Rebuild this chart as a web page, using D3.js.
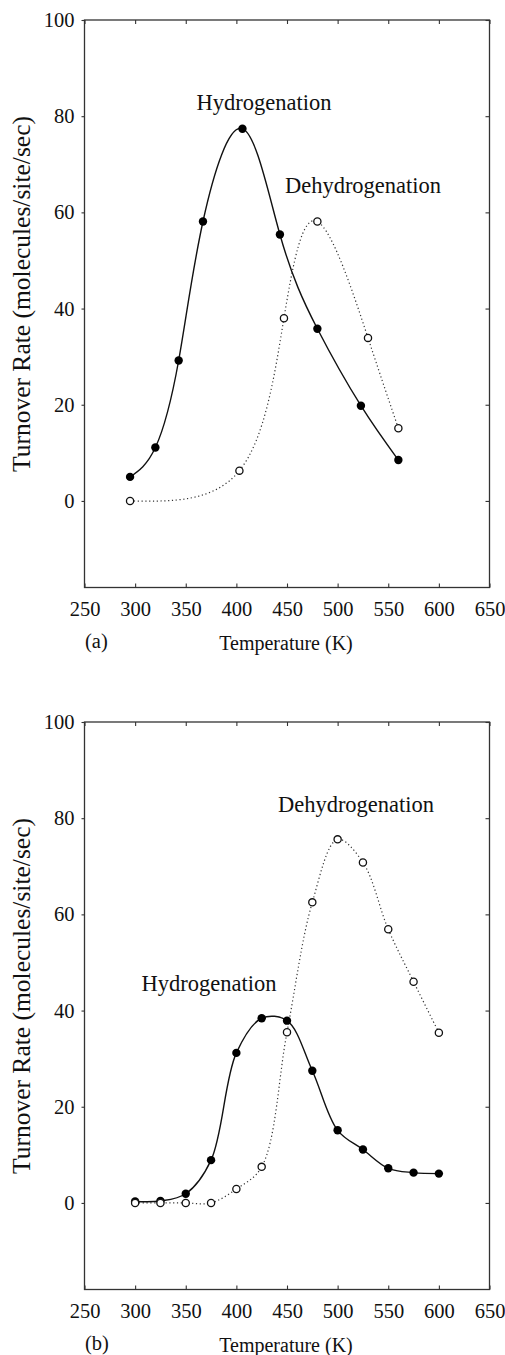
<!DOCTYPE html>
<html>
<head>
<meta charset="utf-8">
<script src="https://cdn.jsdelivr.net/npm/d3@7"></script>
<style>
  html, body { margin: 0; padding: 0; background: #fff; }
  svg { display: block; }
  text { font-family: "Liberation Serif", "Times New Roman", serif; fill: #111; }
</style>
</head>
<body>
<svg id="chart" width="505" height="1355"></svg>
<script>
// ---- data ----
const xTicks = [250, 300, 350, 400, 450, 500, 550, 600, 650];
const yTicks = [0, 20, 40, 60, 80, 100];

// Panel (a)
const aHydT = [295, 320, 343, 367, 406, 443, 480, 523, 560];
const aHydR = [5.0, 11.1, 29.2, 58.1, 77.4, 55.4, 35.8, 19.8, 8.5];
const aDehT = [295, 403, 447, 480, 530, 560];
const aDehR = [0.0, 6.3, 38.0, 58.1, 33.9, 15.1];

// Panel (b)
const bHydT = [300, 325, 350, 375, 400, 425, 450, 475, 500, 525, 550, 575, 600];
const bHydR = [0.3, 0.4, 1.9, 8.9, 31.2, 38.4, 37.9, 27.5, 15.1, 11.1, 7.2, 6.3, 6.1];
const bDehT = [300, 325, 350, 375, 400, 425, 450, 475, 500, 525, 550, 575, 600];
const bDehR = [0.0, 0.0, 0.0, 0.0, 2.9, 7.5, 35.5, 62.5, 75.6, 70.8, 56.9, 46.0, 35.4];

const panels = [
  { tag: "(a)", top: 20, hyd: [aHydT, aHydR], deh: [aDehT, aDehR],
    hydLabel: [264, 110], dehLabel: [363, 193], curve: d3.curveNatural },
  { tag: "(b)", top: 722, hyd: [bHydT, bHydR], deh: [bDehT, bDehR],
    hydLabel: [209, 991], dehLabel: [356, 812], curve: d3.curveCatmullRom.alpha(0.5) }
];

const svg = d3.select("#chart");
const left = 84.5, right = 489.5, plotH = 567.5;

panels.forEach(p => {
  const x = d3.scaleLinear().domain([250, 650]).range([left, right]);
  const y = d3.scaleLinear().domain([-18, 100]).range([p.top + plotH, p.top]);
  const g = svg.append("g");

  // frame
  g.append("rect")
    .attr("x", left).attr("y", p.top)
    .attr("width", right - left).attr("height", plotH)
    .attr("fill", "none").attr("stroke", "#333").attr("stroke-width", 1.3);

  const xb = g.append("g").attr("transform", `translate(0,${y(-18)})`)
    .call(d3.axisBottom(x).tickValues(xTicks).tickSizeInner(-4).tickSizeOuter(0).tickPadding(14));
  const xt = g.append("g").attr("transform", `translate(0,${y(100)})`)
    .call(d3.axisTop(x).tickValues(xTicks).tickSizeInner(-4).tickSizeOuter(0).tickFormat(""));
  const yl = g.append("g").attr("transform", `translate(${left},0)`)
    .call(d3.axisLeft(y).tickValues(yTicks).tickSizeInner(3).tickSizeOuter(0).tickPadding(7));
  const yr = g.append("g").attr("transform", `translate(${right},0)`)
    .call(d3.axisRight(y).tickValues(yTicks).tickSizeInner(-4).tickSizeOuter(0).tickFormat(""));

  [xb, xt, yl, yr].forEach(a => {
    a.attr("font-family", null).attr("font-size", null);
    a.select(".domain").remove();
    a.selectAll("line").attr("stroke", "#333").attr("stroke-width", 1.1);
    a.selectAll("text").style("font-family", '"Liberation Serif", serif')
      .style("font-size", "20.5px").attr("fill", "#111");
  });

  // axis titles
  g.append("text")
    .attr("transform", `translate(30,${p.top + 274}) rotate(-90)`)
    .attr("text-anchor", "middle")
    .style("font-size", "25.5px")
    .text("Turnover Rate (molecules/site/sec)");
  g.append("text")
    .attr("x", 286).attr("y", p.top + 630)
    .attr("text-anchor", "middle")
    .style("font-size", "20px")
    .text("Temperature (K)");
  g.append("text")
    .attr("x", 85).attr("y", p.top + 628)
    .style("font-size", "20.5px")
    .text(p.tag);

  // curves
  const line = d3.line().x(d => x(d[0])).y(d => y(d[1])).curve(p.curve);
  const hyd = p.hyd[0].map((t, i) => [t, p.hyd[1][i]]);
  const deh = p.deh[0].map((t, i) => [t, p.deh[1][i]]);

  g.append("path").datum(deh).attr("d", line)
    .attr("fill", "none").attr("stroke", "#333").attr("stroke-width", 1.2)
    .attr("stroke-dasharray", "1.2,2.6");
  g.append("path").datum(hyd).attr("d", line)
    .attr("fill", "none").attr("stroke", "#111").attr("stroke-width", 1.4);

  g.selectAll(".hp").data(hyd).enter().append("circle")
    .attr("cx", d => x(d[0])).attr("cy", d => y(d[1])).attr("r", 4.2)
    .attr("fill", "#000");
  g.selectAll(".dp").data(deh).enter().append("circle")
    .attr("cx", d => x(d[0])).attr("cy", d => y(d[1])).attr("r", 3.6)
    .attr("fill", "#fff").attr("stroke", "#111").attr("stroke-width", 1.3);

  // series labels
  g.append("text").attr("x", p.hydLabel[0]).attr("y", p.hydLabel[1])
    .attr("text-anchor", "middle").style("font-size", "22.5px").text("Hydrogenation");
  g.append("text").attr("x", p.dehLabel[0]).attr("y", p.dehLabel[1])
    .attr("text-anchor", "middle").style("font-size", "22.5px").text("Dehydrogenation");
});
</script>
</body>
</html>
